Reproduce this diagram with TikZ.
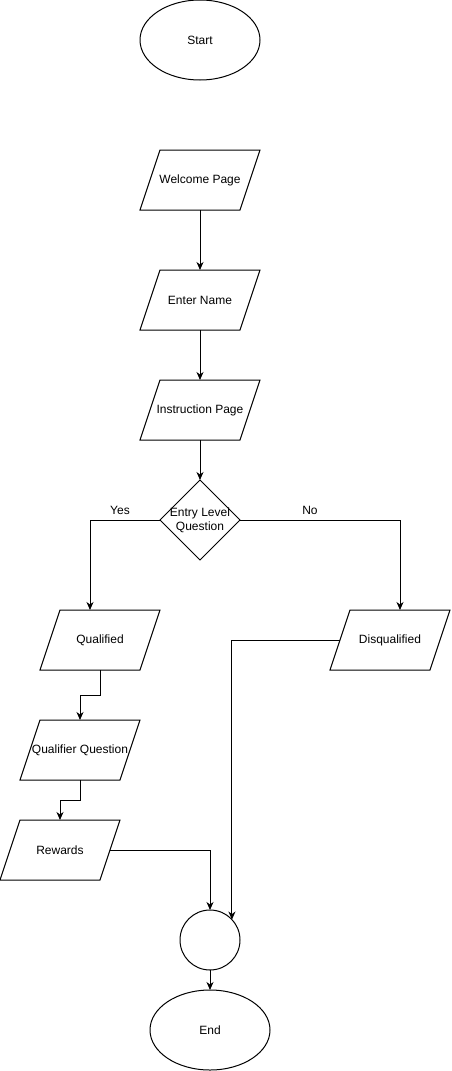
\documentclass[tikz,border=0pt]{standalone}
\usepackage{fontspec}
\setmainfont{Liberation Sans}
\usetikzlibrary{shapes.geometric,arrows.meta}
\begin{document}
\begin{tikzpicture}[x=1pt,y=-1pt,
  every node/.style={font=\fontsize{12}{14}\selectfont, inner sep=0pt, outer sep=0pt},
  line/.style={line width=1pt, draw=black},
  arr/.style={line, -{Stealth[length=8pt,width=7pt,inset=2.5pt]}},
  box/.style={minimum width=120pt, minimum height=60pt, align=center},
  oval/.style={ellipse, line, minimum width=120pt, minimum height=80pt},
  lbl/.style={font=\fontsize{12}{14}\selectfont}
]
\useasboundingbox (0,0) rectangle (451,1071);
\node[oval] (start) at (200,40) {Start};
\node[box] (wp) at (200,180) {Welcome Page};
\node[box] (en) at (200,300) {Enter Name};
\node[box] (ip) at (200,410) {Instruction Page};
\node[minimum width=80pt, minimum height=80pt, align=center] (d) at (200,520) {Entry Level\\Question};
\node[box] (q) at (100,640) {Qualified};
\node[box] (dq) at (390,640) {Disqualified};
\node[box] (qq) at (80,750) {Qualifier Question};
\node[box] (rw) at (60,850) {Rewards};
\node[circle, line, minimum size=60pt] (c) at (210,940) {};
\node[oval] (end) at (210,1030) {End};
\foreach \n in {wp,en,ip,q,dq,qq,rw}{
  \draw[line] ([xshift=20pt]\n.north west) -- (\n.north east) -- ([xshift=-20pt]\n.south east) -- (\n.south west) -- cycle;
}
\draw[line] (d.north) -- (d.east) -- (d.south) -- (d.west) -- cycle;
\draw[arr] (wp.south) -- (en.north);
\draw[arr] (en.south) -- (ip.north);
\draw[arr] (ip.south) -- (d.north);
\draw[arr] (d.west) -| ([xshift=-10pt]q.north);
\draw[arr] (d.east) -| ([xshift=10pt]dq.north);
\node[lbl] (yes) at (120,510) {Yes};
\node[lbl] (no) at (310,510) {No};
\draw[arr] (q.south) -- ++(0,25) -| (qq.north);
\draw[arr] (qq.south) -- ++(0,20) -| (rw.north);
\draw[arr] ([xshift=-10pt]rw.east) -| (c.north);
\draw[arr] ([xshift=10pt]dq.west) -| (c.43);
\draw[arr] (c.south) -- (end.north);
\end{tikzpicture}
\end{document}
